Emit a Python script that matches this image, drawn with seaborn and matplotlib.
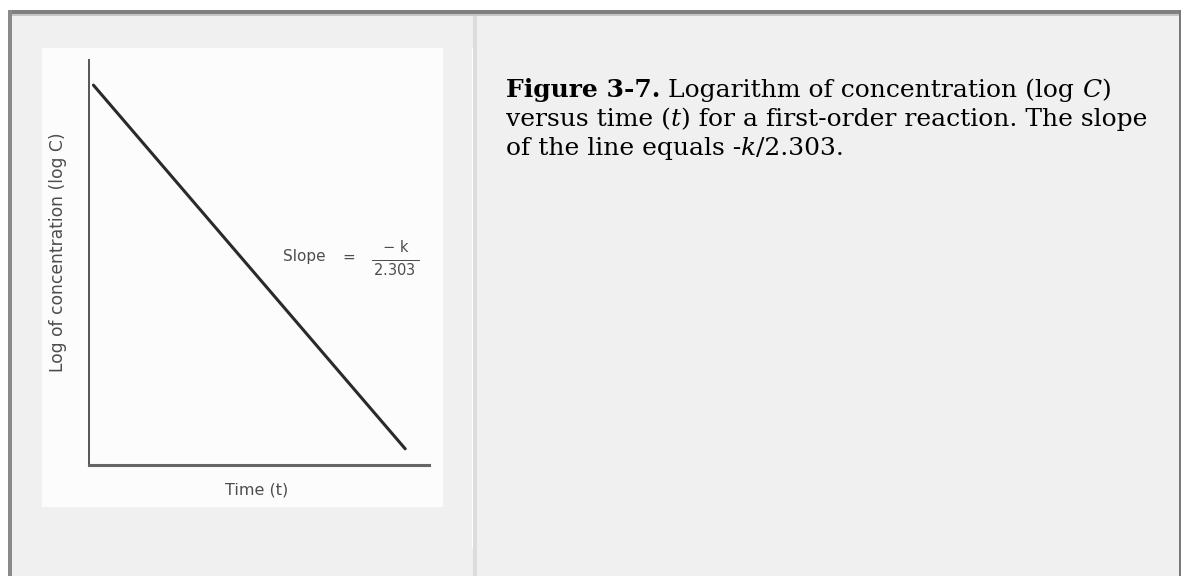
import matplotlib
matplotlib.use("Agg")
import matplotlib.pyplot as plt
import seaborn as sns
from matplotlib.patches import Rectangle

# ---- chart content -------------------------------------------------------
time = [0.13, 9.3]          # time (arbitrary units)
log_c = [9.38, 0.4]         # log of concentration (arbitrary units)
x_label = "Time (t)"
y_label = "Log of concentration (log C)"
slope_word = "Slope"
slope_num = "\u2212 k"
slope_den = r"$\overline{\,2.303\,}$"

# caption pieces: (text, weight, style)
caption_line1 = [("Figure 3-7.", "bold", "normal"),
                 (" Logarithm of concentration (log ", "normal", "normal"),
                 ("C", "normal", "italic"),
                 (")", "normal", "normal")]
caption_line2 = [("versus time (", "normal", "normal"),
                 ("t", "normal", "italic"),
                 (") for a first-order reaction. The slope", "normal", "normal")]
caption_line3 = [("of the line equals -", "normal", "normal"),
                 ("k", "normal", "italic"),
                 ("/2.303.", "normal", "normal")]

sns.set_theme(style="white")
plt.rcParams["font.family"] = ["DejaVu Sans"]
plt.rcParams["mathtext.fontset"] = "dejavusans"

W, H = 1181, 576
fig = plt.figure(figsize=(W / 100, H / 100), dpi=100)
fig.patch.set_facecolor("white")

# page frame drawn in pixel units
bg = fig.add_axes([0, 0, 1, 1])
bg.set_xlim(0, W)
bg.set_ylim(H, 0)
bg.axis("off")

def box(x, y, w, h, color):
    bg.add_patch(Rectangle((x, y), w, h, facecolor=color, edgecolor="none"))

box(8, 10, W - 8, H - 10, "#f0f0f0")       # table background
box(12, 14, W - 12, 2, "#c6c6c6")          # inner bevel
box(8, 10, W - 8, 4, "#808080")            # top border
box(8, 10, 4, H - 10, "#8a8a8a")           # left border
box(W - 2, 10, 2, H - 10, "#7a7a7a")       # right border
box(473, 16, 4, H - 16, "#dcdcdc")         # cell divider
box(472, 48, 1, 500, "#ffffff")
box(42, 48, 401, 459, "#fcfcfc")           # figure image area

# ---- the plot ---------------------------------------------------------------
ax = fig.add_axes([89 / W, (H - 465) / H, 340 / W, 405 / H])
ax.set_facecolor("none")
sns.lineplot(x=time, y=log_c, ax=ax, color="#2a2a2a", linewidth=2.2)
ax.set_xlim(0, 10)
ax.set_ylim(0, 10)
ax.set_xticks([])
ax.set_yticks([])
for side in ("top", "right"):
    ax.spines[side].set_visible(False)
ax.spines["left"].set_color("#555555")
ax.spines["left"].set_linewidth(1.4)
ax.spines["bottom"].set_color("#666666")
ax.spines["bottom"].set_linewidth(2.2)

txt = "#4d4d4d"
ax.set_xlabel(x_label, fontsize=11.5, color=txt)
ax.xaxis.set_label_coords(0.494, -0.042)
ax.set_ylabel(y_label, fontsize=12.3, color=txt)
ax.yaxis.set_label_coords(-0.066, 0.525)

# slope annotation, written as a fraction
ax.text(5.71, 5.14, slope_word, fontsize=11, color=txt, ha="left", va="center")
ax.text(7.65, 5.12, "=", fontsize=11, color=txt, ha="center", va="center")
ax.text(9.03, 5.36, slope_num, fontsize=10.5, color=txt, ha="center", va="center")
ax.text(9.0, 4.64, slope_den, fontsize=10.5, color=txt, ha="center", va="baseline")

# ---- caption ---------------------------------------------------------------
CAP_FONT = "DejaVu Serif"
CAP_SIZE = 18

def caption(pieces, x, baseline):
    first, weight, style = pieces[0]
    prev = bg.text(x, baseline, first, fontsize=CAP_SIZE, family=CAP_FONT,
                   fontweight=weight, fontstyle=style, color="black",
                   ha="left", va="baseline")
    for text, weight, style in pieces[1:]:
        prev = bg.annotate(text, xy=(1, 0), xycoords=prev, fontsize=CAP_SIZE,
                           family=CAP_FONT, fontweight=weight,
                           fontstyle=style, color="black",
                           ha="left", va="bottom")

caption(caption_line1, 506, 97)
caption(caption_line2, 506, 126)
caption(caption_line3, 506, 155)

fig.savefig("out.png", dpi=100)
